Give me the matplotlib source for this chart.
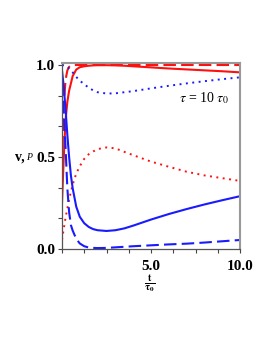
import numpy as np
import matplotlib
matplotlib.use("Agg")
import matplotlib.pyplot as plt

plt.rcParams['font.family'] = ['Liberation Serif', 'DejaVu Serif']
plt.rcParams['mathtext.fontset'] = 'stix'

t = [0, 0.1, 0.2, 0.3, 0.4, 0.5, 0.6, 0.8, 1.0, 1.25, 1.5, 1.75, 2.0, 2.5,
     3.0, 3.5, 4, 5, 6, 7, 8, 9, 10]

red_solid = [0.25, 0.50, 0.70, 0.80, 0.86, 0.90, 0.94, 0.975, 0.988, 0.993, 0.996, 0.998,
             0.999, 0.999, 0.998, 0.996, 0.993, 0.987, 0.981, 0.976, 0.971, 0.966, 0.96]
red_dashed = [0.45, 0.78, 0.92, 0.97, 0.99, 0.997, 0.999, 1.0, 1.0, 1.0, 1.0, 1.0,
              1.0, 1.0, 1.0, 1.0, 1.0, 1.0, 1.0, 1.0, 1.0, 1.0, 1.0]
red_dotted = [0.05, 0.11, 0.17, 0.22, 0.27, 0.31, 0.35, 0.41, 0.45, 0.49, 0.515, 0.53,
              0.543, 0.552, 0.547, 0.528, 0.51, 0.475, 0.447, 0.42, 0.40, 0.385, 0.37]
blue_solid = [0.97, 0.88, 0.76, 0.62, 0.50, 0.40, 0.33, 0.23, 0.175, 0.14, 0.12, 0.108,
              0.102, 0.098, 0.102, 0.112, 0.127, 0.16, 0.19, 0.217, 0.242, 0.265, 0.287]
blue_dashed = [0.90, 0.74, 0.55, 0.33, 0.20, 0.13, 0.10, 0.055, 0.03, 0.015, 0.008, 0.006,
               0.005, 0.006, 0.009, 0.012, 0.015, 0.02, 0.025, 0.029, 0.035, 0.042, 0.049]
blue_dotted = [1.0, 0.998, 0.995, 0.99, 0.98, 0.97, 0.96, 0.935, 0.915, 0.895, 0.877, 0.862,
               0.852, 0.845, 0.846, 0.852, 0.858, 0.873, 0.887, 0.90, 0.912, 0.923, 0.933]

red = '#ff1010'
blue = '#1a1aff'
dash = (0, (6, 2.5))
dot = (0, (1, 2.3))

fig = plt.figure(figsize=(2.73, 3.53), dpi=100)
ax = fig.add_axes([62 / 273, 1 - 249 / 353, 178 / 273, (249 - 62.7) / 353])

ax.plot(t, red_dashed, color=red, lw=1.5, ls=dash)
ax.plot(t, red_solid, color=red, lw=1.5)
ax.plot(t, red_dotted, color=red, lw=1.4, ls=dot)
ax.plot(t, blue_solid, color=blue, lw=1.5)
ax.plot(t, blue_dashed, color=blue, lw=1.5, ls=dash)
ax.plot(t, blue_dotted, color=blue, lw=1.4, ls=dot)

ax.set_xlim(0, 10)
ax.set_ylim(0, 1.0125)

ax.set_xticks([5, 10])
ax.set_xticklabels(['5.0', '10.0'], fontweight='bold', fontsize=11)
ax.set_xticks(np.arange(0, 10.01, 1.25), minor=True)
ax.set_yticks([0, 0.5, 1.0])
ax.set_yticklabels(['0.0', '0.5', '1.0'], fontweight='bold', fontsize=11)
ax.set_yticks(np.arange(0, 1.01, 1 / 6), minor=True)
ax.tick_params(which='both', direction='out', length=3, width=0.8, color='#444')
ax.tick_params(axis='x', pad=5)
ax.tick_params(axis='y', pad=2)

for s in ['left', 'bottom']:
    ax.spines[s].set_color('#555')
    ax.spines[s].set_linewidth(0.9)
for s in ['top', 'right']:
    ax.spines[s].set_color('#999')
    ax.spines[s].set_linewidth(1.5)

ax.text(6.6, 0.82, r'$\tau$ = 10 $\tau_0$', fontsize=10, va='center')

fig.text(15 / 273, 1 - 157 / 353, 'v,', fontsize=10, fontweight='bold', va='center')
fig.text(26 / 273, 1 - 157 / 353, 'P', fontsize=7, fontstyle='italic', va='center')
fig.text(150 / 273, 1 - 283 / 353, r'$\mathbf{\frac{t}{\tau_0}}$', fontsize=10.5,
         ha='center', va='center')

fig.savefig('out.png', dpi=100)
